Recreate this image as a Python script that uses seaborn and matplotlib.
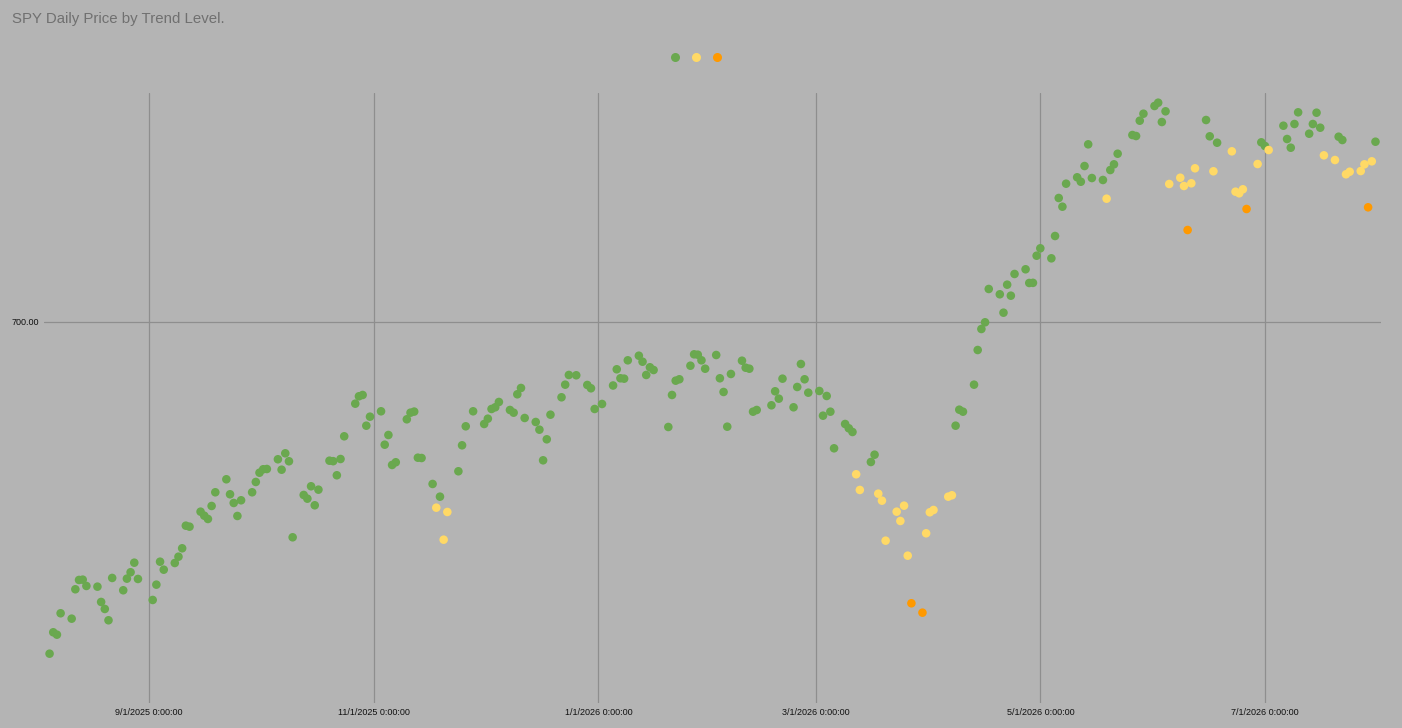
import pandas as pd
import matplotlib
matplotlib.use("Agg")
import matplotlib.pyplot as plt
import matplotlib.dates as mdates
from matplotlib.ticker import FixedLocator, FuncFormatter
from matplotlib.lines import Line2D
import seaborn as sns


# 1. Data (SPY close per trading day)

aug_2025 = [623.74, 628.66, 628.11, 633.03, 631.79, 638.55, 640.69, 640.76, 639.31, 639.15,
            635.63, 634.02, 631.42, 641.15, 638.32, 640.99, 642.46, 644.66, 640.92]
sep_2025 = [636.09, 639.61, 644.89, 643.05, 644.59, 646.04, 647.97, 653.17, 652.94, 656.39,
            655.47, 654.71, 657.70, 660.85, 663.84, 660.39, 658.39, 655.40, 659.01, 660.85,
            663.22]
oct_2025 = [665.35, 666.14, 666.20, 668.44, 666.04, 669.81, 667.98, 650.50, 660.23, 659.38,
            662.23, 657.86, 661.45, 668.11, 668.00, 664.76, 668.50, 673.72, 681.22, 682.92,
            683.22, 676.16, 678.23]
nov_2025 = [679.47, 671.79, 674.02, 667.13, 667.75, 677.63, 679.15, 679.40, 668.80, 668.73,
            662.76, 657.31, 659.84, 649.95, 656.32, 665.68, 671.65, 676.02, 679.47]
dec_2025 = [676.55, 677.77, 680.00, 680.39, 681.61, 679.77, 679.15, 683.38, 684.83, 677.93,
            677.01, 675.24, 668.20, 673.03, 678.69, 682.69, 685.59, 687.82, 687.75, 685.52,
            684.76, 680.00]
jan_2026 = [681.15, 685.40, 689.13, 687.06, 686.97, 691.19, 692.25, 690.87, 687.82, 689.59,
            688.96, 675.86, 683.22, 686.51, 686.83, 689.95, 692.57, 692.48, 691.19, 689.26]
feb_2026 = [692.41, 687.06, 683.91, 675.93, 688.05, 691.10, 689.49, 689.26, 679.38, 679.77,
            680.85, 684.07, 682.37, 686.97, 680.39, 685.06, 690.34, 686.83, 683.75]
mar_2026 = [684.14, 678.46, 682.99, 679.38, 670.96, 676.55, 675.56, 674.71, 664.99, 661.38,
            667.81, 669.49, 660.53, 658.92, 649.72, 656.39, 654.25, 657.77, 646.27, 635.33,
            633.17, 651.42]
apr_2026 = [656.25, 656.78, 659.84, 660.16, 676.16, 679.84, 679.38, 685.59, 693.56, 698.39,
            699.93, 707.59, 706.37, 702.14, 708.58, 706.05, 711.04, 712.12, 708.97, 709.00,
            715.24]
may_2026 = [716.94, 714.64, 719.77, 728.51, 726.51, 731.80, 733.27, 732.25, 735.86, 740.85,
            733.10, 732.65, 728.35, 734.94, 736.25, 738.69, 742.99, 742.76, 746.28, 747.89]
jun_2026 = [749.66, 750.42, 745.98, 748.44, 731.73, 733.17, 731.27, 721.15, 731.89, 735.34,
            746.44, 742.69, 734.65, 741.22, 739.24, 729.96, 729.59, 730.51, 725.98, 736.32,
            741.31]
jul_2026 = [740.46, 739.54, 745.13, 742.07, 740.07, 745.52, 748.21, 743.29, 745.52, 748.12,
            744.67, 738.32, 737.24, 742.60, 741.84, 733.96, 734.55, 734.71, 736.25, 726.37,
            736.94, 741.45]

# trend level per trading day: G = up, Y = weakening, O = down
levels_by_month = [
    "G" * 19,
    "G" * 21,
    "G" * 23,
    "GGGGG" "GGGGG" "GYGYY" "GGGG",
    "G" * 22,
    "G" * 20,
    "G" * 19,
    "GGGGG" "GGGYY" "GGYYY" "YYYYO" "OY",
    "YY" "YYGGG" "GGGGG" "GGGGG" "GGGG",
    "G" "GGGGG" "GGGGG" "GYGGG" "GGGG",
    "GGGGY" "YYOYY" "GGYG" "YYYYO" "YG",
    "GY" "GGGGG" "GGGGY" "YGGYY" "YYOYG",
]

market_holidays = ["2025-09-01", "2025-11-27", "2025-12-25", "2026-01-01", "2026-01-19",
                   "2026-02-16", "2026-04-03", "2026-05-25", "2026-06-19", "2026-07-03"]

level_names = {"G": "Uptrend", "Y": "Weakening", "O": "Downtrend"}
level_colors = {"Uptrend": "#6aa84f", "Weakening": "#ffd966", "Downtrend": "#ff9900"}


# 2. Build dataframe

prices = (aug_2025 + sep_2025 + oct_2025 + nov_2025 + dec_2025 + jan_2026 +
          feb_2026 + mar_2026 + apr_2026 + may_2026 + jun_2026 + jul_2026)
levels = [level_names[c] for c in "".join(levels_by_month)]
dates = pd.bdate_range("2025-08-05", "2026-07-31", freq="C", holidays=market_holidays)

df = pd.DataFrame({"date": dates, "price": prices, "level": levels})


# 3. Plot

bg = "#b4b4b4"
sns.set_style("white")
plt.rcParams["font.family"] = ["Liberation Sans", "DejaVu Sans"]

fig = plt.figure(figsize=(14.02, 7.28), dpi=100, facecolor=bg)
ax = fig.add_axes([44 / 1402, 1 - 703 / 728, 1337 / 1402, 610 / 728])
ax.set_facecolor(bg)

sns.scatterplot(data=df, x="date", y="price", hue="level",
                hue_order=list(level_colors), palette=level_colors,
                s=38, linewidth=0, legend=False, ax=ax, zorder=3)

ax.set_xlim(pd.Timestamp("2025-08-03 11:45"), pd.Timestamp("2026-08-01 12:00"))
ax.set_ylim(612.4, 752.65)

ax.xaxis.set_major_locator(mdates.MonthLocator(bymonth=[1, 3, 5, 7, 9, 11]))
ax.xaxis.set_major_formatter(FuncFormatter(
    lambda v, pos: "{d.month}/{d.day}/{d.year} 0:00:00".format(d=mdates.num2date(v))))
ax.yaxis.set_major_locator(FixedLocator([700]))
ax.yaxis.set_major_formatter(FuncFormatter(lambda v, pos: f"{v:.2f}"))

ax.grid(True, color="#8e8e8e", linewidth=0.9)
ax.set_axisbelow(True)
for s in ax.spines.values():
    s.set_visible(False)
ax.tick_params(length=0, labelsize=6.5, colors="#111111", pad=3.5)
ax.set_xlabel("")
ax.set_ylabel("")

fig.text(12 / 1402, 1 - 18.5 / 728, "SPY Daily Price by Trend Level.",
         fontsize=10.8, color="#707070", ha="left", va="center")

handles = [Line2D([], [], marker="o", linestyle="", markersize=6.5,
                  markerfacecolor=c, markeredgewidth=0) for c in level_colors.values()]
fig.legend(handles, ["", "", ""], loc="center", bbox_to_anchor=(696 / 1402, 1 - 57 / 728),
           ncol=3, frameon=False, handlelength=0.6, handletextpad=0,
           columnspacing=1.6, fontsize=7, borderpad=0)

fig.savefig("out.png", dpi=100, facecolor=bg)
